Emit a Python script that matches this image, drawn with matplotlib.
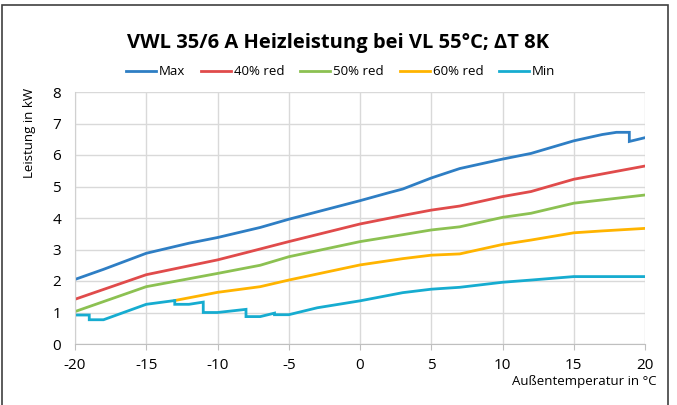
import matplotlib.pyplot as plt
from matplotlib.patches import Rectangle

# Werte (Außentemperatur in °C, Leistung in kW)
x_max = [-20, -18, -15, -12, -10, -7, -5, 0, 2, 3, 5, 7, 10, 12, 15, 17, 18, 18.9, 18.9, 20]
y_max = [2.05, 2.37, 2.88, 3.2, 3.38, 3.7, 3.96, 4.55, 4.8, 4.92, 5.27, 5.57, 5.87, 6.05, 6.45, 6.65, 6.72, 6.72, 6.43, 6.55]

x_40 = [-20, -15, -10, -8, -5, 0, 3, 5, 7, 10, 12, 15, 20]
y_40 = [1.42, 2.2, 2.67, 2.9, 3.25, 3.81, 4.08, 4.25, 4.38, 4.68, 4.84, 5.23, 5.65]

x_50 = [-20, -15, -10, -7, -5, 0, 3, 5, 7, 10, 12, 15, 20]
y_50 = [1.03, 1.82, 2.24, 2.5, 2.77, 3.25, 3.47, 3.62, 3.72, 4.02, 4.15, 4.47, 4.73]

x_60 = [-13, -10, -7, -5, 0, 3, 5, 7, 10, 12, 15, 17, 20]
y_60 = [1.38, 1.64, 1.82, 2.03, 2.51, 2.71, 2.82, 2.86, 3.16, 3.3, 3.53, 3.59, 3.67]

x_min = [-20, -19, -19, -18, -15, -13, -13, -12, -11, -11, -10, -8, -8, -7, -6, -6, -5, -3, 0, 3, 5, 7, 10, 12, 15, 20]
y_min = [0.92, 0.92, 0.77, 0.77, 1.26, 1.38, 1.26, 1.26, 1.33, 1.0, 1.0, 1.1, 0.87, 0.87, 0.98, 0.93, 0.93, 1.15, 1.37, 1.63, 1.74, 1.8, 1.96, 2.03, 2.14, 2.14]

serien = [
    ('Max', x_max, y_max, '#2e7ec4'),
    ('40% red', x_40, y_40, '#e04b4b'),
    ('50% red', x_50, y_50, '#8cc152'),
    ('60% red', x_60, y_60, '#ffb400'),
    ('Min', x_min, y_min, '#16acd0'),
]

plt.rcParams['font.family'] = ['Open Sans', 'DejaVu Sans']
plt.rcParams['axes.unicode_minus'] = False  # Bindestrich wie im Original

fig = plt.figure(figsize=(6.77, 4.05), dpi=100)
ax = fig.add_axes([75 / 677, 61 / 405, 570 / 677, 252 / 405])

for name, xs, ys, farbe in serien:
    ax.plot(xs, ys, color=farbe, lw=2.0, label=name, solid_joinstyle='miter')

ax.set_xlim(-20, 20)
ax.set_ylim(0, 8)
ax.set_xticks(range(-20, 21, 5))
ax.set_yticks(range(0, 9))
ax.grid(True, color='#d9d9d9', lw=1.0)
ax.set_axisbelow(True)
for seite in ['top', 'right']:
    ax.spines[seite].set_visible(False)
ax.spines['left'].set_color('#d0d0d0')
ax.spines['bottom'].set_color('#bfbfbf')
ax.tick_params(axis='x', colors='#bfbfbf', length=4, labelcolor='black', labelsize=11, pad=6)
ax.tick_params(axis='y', length=0, labelsize=11, pad=10)

# Titel, Legende und Achsentitel
fig.text(0.5, 0.893, 'VWL 35/6 A Heizleistung bei VL 55°C; ΔT 8K', ha='center', va='center',
         fontsize=14.5, fontweight='bold')
fig.legend(loc='center', bbox_to_anchor=(0.503, 0.823), ncol=5, frameon=False, fontsize=9.5,
           handlelength=2.3, handletextpad=0.2, columnspacing=1.2)
fig.text(30 / 677, 1 - 88 / 405, 'Leistung in kW', rotation=90, ha='center', va='top', fontsize=9.5)
fig.text(657 / 677, 1 - 382 / 405, 'Außentemperatur in °C', ha='right', va='center', fontsize=9.5)

# Rahmen um die Grafik
fig.patches.append(Rectangle((2 / 677, -0.05), 666 / 677, 1.05 - 5 / 405, transform=fig.transFigure,
                             fill=False, edgecolor='#404040', lw=1.2))

fig.savefig('out.png', dpi=100)
